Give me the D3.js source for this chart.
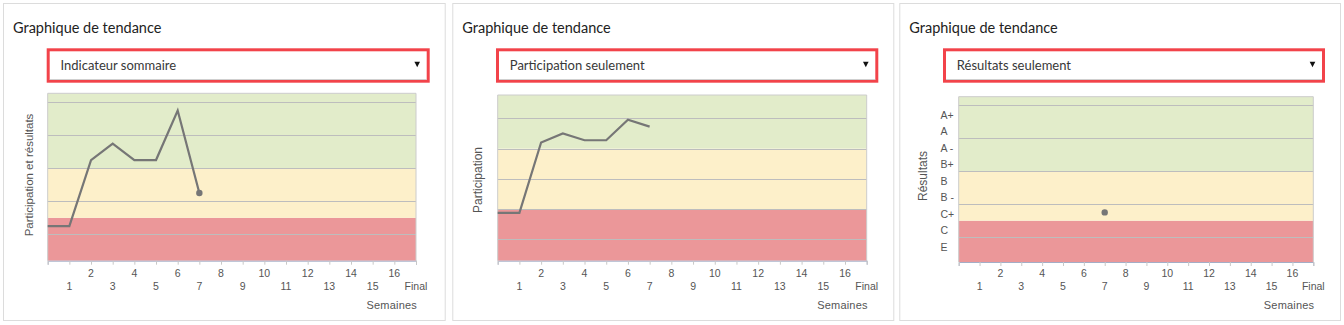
<!DOCTYPE html>
<html>
<head>
<meta charset="utf-8">
<script src="https://cdn.jsdelivr.net/npm/d3@7"></script>
<style>
  html, body { margin: 0; padding: 0; background: #fff; }
  svg { display: block; }
  .axis-text { font-family: "Liberation Sans", Arial, sans-serif; fill: #555; }
  .ui-text { font-family: Lato, "Open Sans", sans-serif; }
</style>
</head>
<body>
<svg id="root" width="1344" height="325"></svg>
<script>
// ---- data ----
const panelTitles = ["Graphique de tendance", "Graphique de tendance", "Graphique de tendance"];
const selectLabels = ["Indicateur sommaire", "Participation seulement", "Résultats seulement"];
const yTitles = ["Participation et résultats", "Participation", "Résultats"];
const xTitle = "Semaines";

// week positions 0..17, the last one being the final assessment
const weekTicks = d3.range(0, 18);
const weekLabels = ["", "1", "2", "3", "4", "5", "6", "7", "8", "9", "10",
                    "11", "12", "13", "14", "15", "16", "Final"];

// summary indicator (weeks 0..7)
const summaryWeeks = [0, 1, 2, 3, 4, 5, 6, 7];
const summaryScores = [25, 25, 65, 75, 65, 65, 95, 45];
const summaryGrid = [20, 40, 60, 80, 100];
const summaryThresholds = [30, 60];   // red below 30, yellow 30–60, green above

// participation only (weeks 0..7)
const participationWeeks = [0, 1, 2, 3, 4, 5, 6, 7];
const participationScores = [37.5, 37.5, 84, 90, 85.5, 85.5, 99, 94.5];
const participationGrid = [20, 40, 60, 80, 100];
const participationThresholds = [40, 80];

// results only: letter grades, lowest first
const gradeLabels = ["E", "C", "C+", "B -", "B", "B+", "A -", "A", "A+"];
const gradeGrid = [0.5, 2.5, 4.5, 6.5, 8.5];
const gradeThresholds = [1.5, 4.5];
const resultWeeks = [7];
const resultGrades = ["C+"];

// ---- styles ----
const COLORS = { red: "#eb9799", yellow: "#fdf0ca", green: "#e2ecca",
                 grid: "#bdbdbd", line: "#767676", frame: "#dcdcdc" };

const svg = d3.select("#root");

const panels = [
  { left: 3,     right: 445.7, plot: { l: 47.7,  r: 416,    t: 93.3, b: 260.7 },
    yDomain: [4, 105.45], grid: summaryGrid, thresholds: summaryThresholds,
    yTitleX: 28.5, yTitleY: 175, yTitleSize: 11.5,
    series: { x: summaryWeeks, y: summaryScores, endDot: true } },
  { left: 452.3, right: 894.3, plot: { l: 497.7, r: 866.7,  t: 95,   b: 260.7 },
    yDomain: [5.9, 115.4], grid: participationGrid, thresholds: participationThresholds,
    yTitleX: 477.5, yTitleY: 180, yTitleSize: 12,
    series: { x: participationWeeks, y: participationScores, endDot: false } },
  { left: 899.3, right: 1341,  plot: { l: 958.7, r: 1313.3, t: 96.7, b: 262 },
    yDomain: [-1, 9], grid: gradeGrid, thresholds: gradeThresholds,
    yTitleX: 922.7, yTitleY: 176, yTitleSize: 12, grades: true,
    series: { x: resultWeeks, y: resultGrades.map(g => gradeLabels.indexOf(g)), endDot: true } }
];

panels.forEach((p, i) => {
  const g = svg.append("g");

  // card frame
  g.append("rect")
    .attr("x", p.left + 0.5).attr("y", 3.5)
    .attr("width", p.right - p.left - 1).attr("height", 317)
    .attr("fill", "#fff").attr("stroke", COLORS.frame);

  // heading
  g.append("text").attr("class", "ui-text")
    .attr("x", p.left + 10).attr("y", 32.5)
    .attr("font-size", 14.5).attr("fill", "#222")
    .text(panelTitles[i]);

  // dropdown
  const sx = p.left + 45.2, sw = (p.right - 16) - (p.left + 43.7) - 3;
  g.append("rect").attr("x", sx).attr("y", 49.8).attr("width", sw).attr("height", 31.4)
    .attr("fill", "#fff").attr("stroke", "#f2434a").attr("stroke-width", 3);
  g.append("line").attr("x1", sx + 1.5).attr("x2", sx + sw - 1.5)
    .attr("y1", 79.5).attr("y2", 79.5).attr("stroke", "#cfcfcf");
  g.append("text").attr("class", "ui-text")
    .attr("x", p.left + 57.5).attr("y", 69.5)
    .attr("font-size", 13).attr("fill", "#383838")
    .text(selectLabels[i]);
  const ax = sx + sw - 11;
  g.append("path")
    .attr("d", `M${ax - 2.8},61.8 L${ax + 2.8},61.8 L${ax},67.2 Z`)
    .attr("fill", "#111");

  // scales
  const x = d3.scaleLinear().domain([0, 17]).range([p.plot.l, p.plot.r]);
  const y = d3.scaleLinear().domain(p.yDomain).range([p.plot.b, p.plot.t]);

  // coloured bands
  const [lo, hi] = p.thresholds;
  const bands = [
    { from: p.yDomain[0], to: lo, color: COLORS.red },
    { from: lo, to: hi, color: COLORS.yellow },
    { from: hi, to: p.yDomain[1], color: COLORS.green }
  ];
  g.selectAll(".band").data(bands).join("rect")
    .attr("x", x(0)).attr("width", x(17) - x(0))
    .attr("y", d => y(d.to)).attr("height", d => y(d.from) - y(d.to))
    .attr("fill", d => d.color);

  // horizontal grid
  g.selectAll(".grid").data(p.grid).join("line")
    .attr("x1", x(0)).attr("x2", x(17))
    .attr("y1", d => Math.round(y(d)) + 0.5).attr("y2", d => Math.round(y(d)) + 0.5)
    .attr("stroke", COLORS.grid).attr("stroke-width", 1);

  // plot frame
  g.append("path")
    .attr("d", `M${x(0)},${y(p.yDomain[0])} V${y(p.yDomain[1])} H${x(17)} V${y(p.yDomain[0])}`)
    .attr("fill", "none").attr("stroke", "#cccccc");

  // x axis
  const xAxis = d3.axisBottom(x).tickValues(weekTicks).tickSize(4).tickFormat("");
  const xa = g.append("g").attr("transform", `translate(0,${p.plot.b})`).call(xAxis);
  xa.select(".domain").attr("stroke", "#a4adc6");
  xa.selectAll(".tick line").attr("stroke", "#c8c8c8");

  g.selectAll(".xlab").data(weekTicks.filter(t => weekLabels[t] !== "")).join("text")
    .attr("class", "axis-text")
    .attr("x", d => x(d))
    .attr("y", d => (d % 2 === 0 ? 277.2 : 289.8))
    .attr("text-anchor", "middle")
    .attr("font-size", 10.5)
    .text(d => weekLabels[d]);

  g.append("text").attr("class", "axis-text")
    .attr("x", p.plot.r + 1).attr("y", 309)
    .attr("text-anchor", "end").attr("font-size", 11)
    .attr("letter-spacing", 0.2)
    .text(xTitle);

  // y title
  g.append("text").attr("class", "axis-text")
    .attr("transform", `translate(${p.yTitleX},${p.yTitleY}) rotate(-90)`)
    .attr("text-anchor", "middle").attr("dominant-baseline", "central")
    .attr("font-size", p.yTitleSize)
    .text(yTitles[i]);

  // grade axis labels
  if (p.grades) {
    g.selectAll(".ylab").data(gradeLabels).join("text")
      .attr("class", "axis-text")
      .attr("x", 940.5)
      .attr("y", (d, k) => y(k) + 5.3)
      .attr("font-size", 10.5)
      .text(d => d);
  }

  // series
  const pts = p.series.x.map((w, k) => [w, p.series.y[k]]);
  if (pts.length > 1) {
    g.append("path").datum(pts)
      .attr("d", d3.line().x(d => x(d[0])).y(d => y(d[1])))
      .attr("fill", "none").attr("stroke", COLORS.line)
      .attr("stroke-width", 2.2).attr("stroke-linejoin", "miter");
  }
  if (p.series.endDot) {
    const last = pts[pts.length - 1];
    g.append("circle").attr("cx", x(last[0])).attr("cy", y(last[1]))
      .attr("r", 3.2).attr("fill", COLORS.line);
  }
});
</script>
</body>
</html>
